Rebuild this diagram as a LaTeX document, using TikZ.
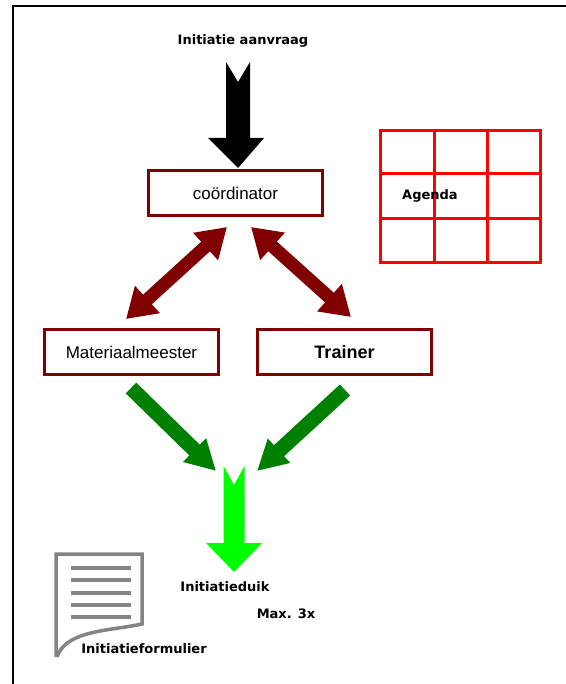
\documentclass[tikz,border=0pt]{standalone}
\usepackage{fontspec}
\setmainfont{Liberation Sans}
\newfontfamily\pixfont{DejaVu Sans}
\usetikzlibrary{arrows.meta,calc}
\definecolor{mred}{HTML}{800000}
\definecolor{agred}{HTML}{FF0000}
\definecolor{mgreen}{HTML}{008000}
\definecolor{lgreen}{HTML}{00FF00}
\definecolor{docgray}{HTML}{848484}
\tikzset{
  boxnode/.style={draw=mred, line width=3pt, minimum width=174pt, minimum height=45pt, inner sep=0pt, font=\fontsize{17}{20}\selectfont},
  pixlabel/.style={font=\pixfont\bfseries\fontsize{13}{15}\selectfont, inner sep=0pt, anchor=base},
  redarrow/.style={mred, line width=13pt, {Triangle[width=35pt,length=29pt]}-{Triangle[width=35pt,length=29pt]}},
  greenarrow/.style={mgreen, line width=15pt, -{Triangle[width=31pt,length=30pt]}},
  docline/.style={docgray, line width=3.5pt},
  gridline/.style={agred, line width=3pt}
}
\begin{document}
\begin{tikzpicture}[x=1pt,y=-1pt]
\useasboundingbox (0,0) rectangle (565,684);
\fill[white] (0,0) rectangle (565,684);
% frame
\draw[line width=2pt] (13,690) -- (13,6) -- (570,6);

% title
\node[pixlabel] (aanvraag) at (243,45) {Initiatie aanvraag};

% black notched arrow
\coordinate (btip) at (238,168);
\fill[black, shift={(btip)}] (-12,-106) -- (0,-86) -- (12,-106) -- (12,-30) -- (26,-30) -- (0,0) -- (-30,-30) -- (-12,-30) -- cycle;

% boxes
\node[boxnode] (coord) at (235.5,193.5) {coördinator};
\node[boxnode] (mat) at (131.5,352) {Materiaalmeester};
\node[boxnode, font=\bfseries\fontsize{18}{20}\selectfont] (trainer) at (344.5,352) {Trainer};

% agenda grid
\draw[gridline] (380.5,130.5) rectangle (540.5,262.5);
\draw[gridline] (434,130.5) -- (434,262.5);
\draw[gridline] (487,130.5) -- (487,262.5);
\draw[gridline] (380.5,174) -- (540.5,174);
\draw[gridline] (380.5,219) -- (540.5,219);
\node[pixlabel] (agenda) at (430,200) {Agenda};

% dark red double arrows
\coordinate (a1) at (227,227);
\coordinate (a2) at (126,319);
\coordinate (b1) at (251,227);
\coordinate (b2) at (351,317);
\draw[redarrow] (a1) -- (a2);
\draw[redarrow] (b1) -- (b2);

% green arrows
\coordinate (g1s) at (131,388);
\coordinate (g1e) at (216,471);
\coordinate (g2s) at (345,390);
\coordinate (g2e) at (257,471);
\draw[greenarrow] (g1s) -- (g1e);
\draw[greenarrow] (g2s) -- (g2e);

% light green notched arrow
\coordinate (ltip) at (234,572);
\fill[lgreen, shift={(ltip)}] (-10.5,-106) -- (0,-87) -- (10.5,-106) -- (10.5,-29) -- (28,-29) -- (0,0) -- (-28,-29) -- (-10.5,-29) -- cycle;

\node[pixlabel] (duik) at (225,591) {Initiatieduik};
\node[pixlabel] (max) at (286,618) {Max. 3x};

% document icon
\draw[docline, line join=miter] (56,657) -- (56,554) -- (142,554) -- (142,624) .. controls (110,631) and (66,630) .. (57,657);
\foreach \yy in {568,580,593,605,617} \draw[docline] (71,\yy) -- (131,\yy);
\node[pixlabel] (formulier) at (144,653) {Initiatieformulier};
\end{tikzpicture}
\end{document}
